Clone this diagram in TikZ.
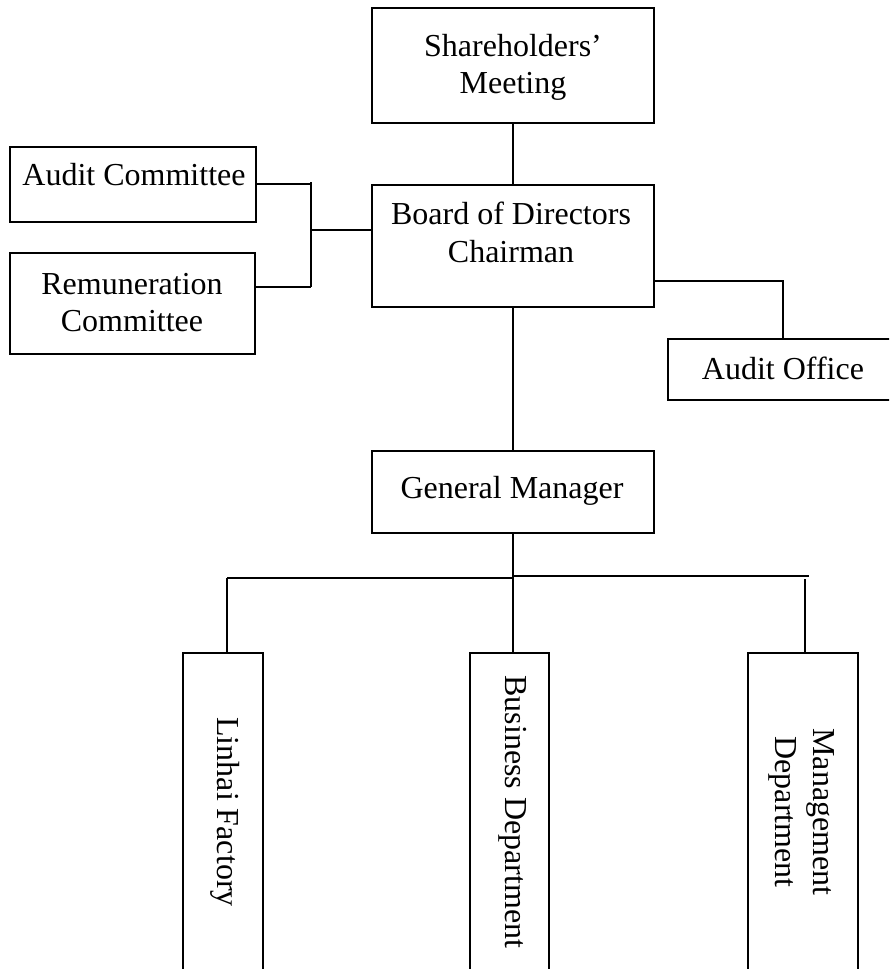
\documentclass[tikz,border=0pt]{standalone}
\usepackage{fontspec}
\setmainfont{Liberation Serif}
\begin{document}
\begin{tikzpicture}[x=1pt,y=-1pt,
  orgbox/.style={draw=black, line width=2.6pt, rectangle, inner sep=0pt, fill=none},
  lbl/.style={font=\fontsize{32}{38}\selectfont, inner sep=0pt, anchor=base},
  vlbl/.style={font=\fontsize{32}{38}\selectfont, inner sep=0pt, anchor=base, rotate=-90},
  conn/.style={draw=black, line width=2.2pt}]
\useasboundingbox (0,0) rectangle (889,969);
\clip (0,0) rectangle (889,969);
\fill[white] (0,0) rectangle (889,969);

% boxes
\node[orgbox, minimum width=282pt, minimum height=115pt] (sm) at (513,65.5) {};
\node[orgbox, minimum width=246pt, minimum height=75pt] (ac) at (133,184.5) {};
\node[orgbox, minimum width=245pt, minimum height=101pt] (rc) at (132.5,303.5) {};
\node[orgbox, minimum width=282pt, minimum height=122pt] (bd) at (513,246) {};
\node[orgbox, minimum width=230pt, minimum height=61pt] (ao) at (783,369.5) {};
\node[orgbox, minimum width=282pt, minimum height=82pt] (gm) at (513,492) {};
\node[orgbox, minimum width=80pt, minimum height=322pt] (lf) at (223,814) {};
\node[orgbox, minimum width=79pt, minimum height=322pt] (bu) at (509.5,814) {};
\node[orgbox, minimum width=110pt, minimum height=322pt] (md) at (803,814) {};

% texts
\node[lbl] (sm1) at (513,56) {Shareholders’};
\node[lbl] (sm2) at (513,93) {Meeting};
\node[lbl] (ac1) at (134,185) {Audit Committee};
\node[lbl] (rc1) at (132,294) {Remuneration};
\node[lbl] (rc2) at (132,331) {Committee};
\node[lbl] (bd1) at (511,224) {Board of Directors};
\node[lbl] (bd2) at (511,262) {Chairman};
\node[lbl] (ao1) at (783,379) {Audit Office};
\node[lbl] (gm1) at (512,498) {General Manager};
\node[vlbl] (lf1) at (217,812) {Linhai Factory};
\node[vlbl] (bu1) at (505,812) {Business Department};
\node[vlbl] (md1) at (813,812) {Management};
\node[vlbl] (md2) at (775,812) {Department};

% junction points
\coordinate (acj) at (311,184);
\coordinate (rcj) at (311,287);
\coordinate (vtop) at (311,182);
\coordinate (bdj) at (311,230);
\coordinate (aoj) at (783,281);
\coordinate (bl) at (227,578);
\coordinate (bm) at (513,578);
\coordinate (bm2) at (513,576);
\coordinate (br) at (809,576);
\coordinate (mdj) at (805,579);

% connectors
\draw[conn] (sm.south) -- (sm.south |- bd.north);
\draw[conn] (acj -| ac.east) -- (acj);
\draw[conn] (rcj -| rc.east) -- (rcj);
\draw[conn] (vtop) -- (rcj);
\draw[conn] (bdj) -- (bdj -| bd.west);
\draw[conn] (aoj -| bd.east) -- (aoj) -- (ao.north);
\draw[conn] (bd.south) -- (bd.south |- gm.north);
\draw[conn] (gm.south) -- (gm.south |- bu.north);
\draw[conn] (bl) -- (bm);
\draw[conn] (bm2) -- (br);
\draw[conn] (bl) -- (bl |- lf.north);
\draw[conn] (mdj) -- (mdj |- md.north);
\end{tikzpicture}
\end{document}
